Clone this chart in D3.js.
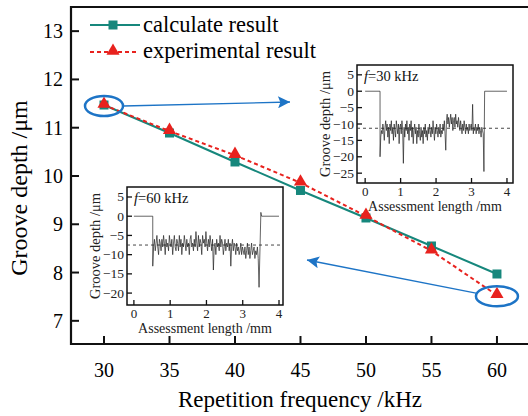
<!DOCTYPE html>
<html>
<head>
<meta charset="utf-8">
<script src="https://cdn.jsdelivr.net/npm/d3@7"></script>
<style>
  body { margin: 0; background: #fff; }
</style>
</head>
<body>
<div id="chart"></div>
<script>
// main chart data
var freq = [30, 35, 40, 45, 50, 55, 60];
var calcDepth = [11.47, 10.89, 10.29, 9.70, 9.13, 8.55, 7.97];
var expDepth = [11.47, 10.93, 10.43, 9.86, 9.17, 8.45, 7.53];
var xTicks = [30, 35, 40, 45, 50, 55, 60];
var yTicks = [7, 8, 9, 10, 11, 12, 13];

// inset profiles (groove samples, hand read)
var groove30 = [-20, -14, -12, -13, -10, -12, -15, -11, -9,
  -12, -10, -14, -11, -16, -10, -12, -9, -13, -11, -15, -10, -12, -14, -9, -11, -13, -10, -16, -11,
  -10, -13, -9, -12, -22, -11, -14, -10, -12, -9, -13, -11, -15, -10, -12, -9, -14, -11, -16, -12,
  -10, -13, -11, -16, -12, -14, -10, -13, -15, -11, -14, -12, -16, -11, -13, -10, -14, -12, -15, -11,
  -13, -10, -12, -14, -11, -13, -9, -12, -15, -11, -13, -10, -12, -14, -11, -13, -10, -14, -12, -13,
  -10, -12, -9, -13, -18, -9, -7, -10, -8, -11, -9, -7, -10, -8, -12, -9, -8, -11, -7, -10,
  -9, -11, -8, -10, -12, -9, -11, -13, -10, -12, -9, -11, -13, -10, -12, -11, -13, -10, -12, -11,
  -10, -12, -4, -13, -11, -12, -10, -13, -11, -12, -10, -13, -11, -12, -14, -11, -12, -13, -24.5];
var groove60 = [-13, -8, -6, -9, -7, -5, -8, -10, -6, -7,
  -9, -6, -8, -5, -7, -10, -6, -8, -7, -9, -5, -7, -8, -6, -10, -7, -5, -8, -9, -6,
  -7, -9, -5, -8, -6, -10, -7, -8, -5, -7, -9, -6, -8, -7, -10, -6, -5, -8, -7, -9,
  -6, -8, -4, -7, -9, -5, -8, -6, -7, -10, -5, -7, -6, -8, -4, -7, -9, -6, -8, -5,
  -7, -9, -6, -14, -8, -7, -10, -6, -8, -7, -9, -5, -8, -6, -7, -10, -8, -6, -9, -7,
  -8, -6, -9, -7, -13, -8, -6, -9, -7, -8, -10, -7, -9, -8, -10, -9, -7, -10, -8, -9,
  -10, -8, -11, -9, -7, -10, -8, -11, -9, -7, -10, -9, -8, -11, -9, -10, -8, -11, -18.5];
var insetXTicks = [0, 1, 2, 3, 4];
var inset30YTicks = [5, 0, -5, -10, -15, -20, -25];
var inset60YTicks = [5, 0, -5, -10, -15, -20];

var teal = "#16877c", red = "#e8221e", blue = "#1d74c6";

var svg = d3.select("#chart").append("svg")
    .attr("width", 528).attr("height", 416)
    .attr("font-family", "'Liberation Serif', 'Times New Roman', serif")
    .style("display", "block");

var x = d3.scaleLinear().domain([27.48, 62.37]).range([71, 528]);
var y = d3.scaleLinear().domain([6.52, 13.5]).range([344, 7]);

// frame
svg.append("path")
    .attr("d", "M528,7H71V344H528")
    .attr("fill", "none").attr("stroke", "#111").attr("stroke-width", 2.2);

// ticks
svg.selectAll(".xt").data(xTicks).enter().append("line")
    .attr("x1", d => x(d)).attr("x2", d => x(d))
    .attr("y1", 344).attr("y2", 336)
    .attr("stroke", "#111").attr("stroke-width", 2);
svg.selectAll(".xl").data(xTicks).enter().append("text")
    .attr("x", d => x(d)).attr("y", 377)
    .attr("text-anchor", "middle").attr("font-size", 20)
    .text(d => d);
svg.selectAll(".yt").data(yTicks).enter().append("line")
    .attr("x1", 71).attr("x2", 79)
    .attr("y1", d => y(d)).attr("y2", d => y(d))
    .attr("stroke", "#111").attr("stroke-width", 2);
svg.selectAll(".yl").data(yTicks).enter().append("text")
    .attr("x", 63).attr("y", d => y(d) + 7)
    .attr("text-anchor", "end").attr("font-size", 20)
    .text(d => d);

svg.append("text").attr("x", 300).attr("y", 407)
    .attr("text-anchor", "middle").attr("font-size", 23)
    .text("Repetition frequency /kHz");
svg.append("text")
    .attr("transform", "translate(27,188) rotate(-90)")
    .attr("text-anchor", "middle").attr("font-size", 24)
    .text("Groove depth /μm");

// series
var line = d3.line().x(d => x(d[0])).y(d => y(d[1]));
var calcPts = freq.map((f, i) => [f, calcDepth[i]]);
var expPts = freq.map((f, i) => [f, expDepth[i]]);

svg.append("path").attr("d", line(calcPts))
    .attr("fill", "none").attr("stroke", teal).attr("stroke-width", 2);
svg.selectAll(".sq").data(calcPts).enter().append("rect")
    .attr("x", d => x(d[0]) - 4.5).attr("y", d => y(d[1]) - 4.5)
    .attr("width", 9).attr("height", 9).attr("fill", teal);

svg.append("path").attr("d", line(expPts))
    .attr("fill", "none").attr("stroke", red).attr("stroke-width", 2)
    .attr("stroke-dasharray", "4,3");
var tri = d3.symbol().type(d3.symbolTriangle).size(75);
svg.selectAll(".tr").data(expPts).enter().append("path")
    .attr("d", tri)
    .attr("transform", d => "translate(" + x(d[0]) + "," + (y(d[1]) - 1) + ")")
    .attr("fill", red);

// legend
svg.append("line").attr("x1", 90).attr("x2", 140).attr("y1", 25).attr("y2", 25)
    .attr("stroke", teal).attr("stroke-width", 2);
svg.append("rect").attr("x", 108.5).attr("y", 20.5).attr("width", 9).attr("height", 9).attr("fill", teal);
svg.append("text").attr("x", 143).attr("y", 32).attr("font-size", 22.5).text("calculate result");
svg.append("line").attr("x1", 90).attr("x2", 136).attr("y1", 52).attr("y2", 52)
    .attr("stroke", red).attr("stroke-width", 2).attr("stroke-dasharray", "4,3");
svg.append("path").attr("d", tri).attr("transform", "translate(113,51)").attr("fill", red);
svg.append("text").attr("x", 143).attr("y", 58).attr("font-size", 22.5).text("experimental result");

// callouts
var defs = svg.append("defs");
defs.append("marker").attr("id", "ah")
    .attr("viewBox", "0 0 10 10").attr("refX", 10).attr("refY", 5)
    .attr("markerWidth", 28).attr("markerHeight", 12)
    .attr("markerUnits", "userSpaceOnUse").attr("orient", "auto")
    .append("path").attr("d", "M0,0L10,5L0,10L2,5Z").attr("fill", blue);

svg.append("ellipse").attr("cx", x(30)).attr("cy", y(11.47) + 1)
    .attr("rx", 19).attr("ry", 10)
    .attr("fill", "none").attr("stroke", blue).attr("stroke-width", 2.5);
svg.append("line").attr("x1", x(30) + 19).attr("y1", y(11.47) + 1)
    .attr("x2", 290).attr("y2", 102)
    .attr("stroke", blue).attr("stroke-width", 1.3).attr("marker-end", "url(#ah)");

svg.append("ellipse").attr("cx", x(60)).attr("cy", y(7.53) + 1)
    .attr("rx", 21).attr("ry", 10)
    .attr("fill", "none").attr("stroke", blue).attr("stroke-width", 2.5);
svg.append("line").attr("x1", x(60) - 21).attr("y1", y(7.53) - 2)
    .attr("x2", 307).attr("y2", 260)
    .attr("stroke", blue).attr("stroke-width", 1.3).attr("marker-end", "url(#ah)");

// insets
function inset(opt) {
  var g = svg.append("g");
  var ix = d3.scaleLinear().domain(opt.xd).range([opt.x0, opt.x1]);
  var iy = d3.scaleLinear().domain(opt.yd).range([opt.y1, opt.y0]);
  g.append("rect").attr("x", opt.x0).attr("y", opt.y0)
      .attr("width", opt.x1 - opt.x0).attr("height", opt.y1 - opt.y0)
      .attr("fill", "#fff").attr("stroke", "#111").attr("stroke-width", 1.5);
  g.selectAll(".ixt").data(insetXTicks).enter().append("line")
      .attr("x1", d => ix(d)).attr("x2", d => ix(d))
      .attr("y1", opt.y1).attr("y2", opt.y1 - 5)
      .attr("stroke", "#111").attr("stroke-width", 1.3);
  g.selectAll(".ixl").data(insetXTicks).enter().append("text")
      .attr("x", d => ix(d)).attr("y", opt.y1 + 13)
      .attr("text-anchor", "middle").attr("font-size", 13).attr("fill", "#222")
      .text(d => d);
  g.selectAll(".iyt").data(opt.yt).enter().append("line")
      .attr("x1", opt.x0).attr("x2", opt.x0 + 5)
      .attr("y1", d => iy(d)).attr("y2", d => iy(d))
      .attr("stroke", "#111").attr("stroke-width", 1.3);
  g.selectAll(".iyl").data(opt.yt).enter().append("text")
      .attr("x", opt.x0 - 3).attr("y", d => iy(d) + 4.5)
      .attr("text-anchor", "end").attr("font-size", 13.5).attr("fill", "#222")
      .text(d => d3.format("")(d));
  g.append("text").attr("x", (opt.x0 + opt.x1) / 2).attr("y", opt.y1 + 28)
      .attr("text-anchor", "middle").attr("font-size", 14).attr("fill", "#222")
      .text("Assessment length /mm");
  g.append("text")
      .attr("transform", "translate(" + (opt.x0 - 27) + "," + ((opt.y0 + opt.y1) / 2) + ") rotate(-90)")
      .attr("text-anchor", "middle").attr("font-size", 14.5).attr("fill", "#222")
      .text("Groove depth /μm");
  var ft = g.append("text").attr("x", opt.x0 + 7).attr("y", opt.y0 + 16)
      .attr("font-size", 14.5).attr("fill", "#111");
  ft.append("tspan").attr("font-style", "italic").text("f");
  ft.append("tspan").text("=" + opt.label);

  g.append("line").attr("x1", opt.x0).attr("x2", opt.x1)
      .attr("y1", iy(opt.mean)).attr("y2", iy(opt.mean))
      .attr("stroke", "#333").attr("stroke-width", 0.9).attr("stroke-dasharray", "3,3");

  var n = opt.groove.length;
  var pts = [[0, 0], [opt.gs, 0]];
  opt.groove.forEach((v, i) => pts.push([opt.gs + (opt.ge - opt.gs) * i / (n - 1), v]));
  opt.tail.forEach(p => pts.push(p));
  g.append("path")
      .attr("d", d3.line().x(d => ix(d[0])).y(d => iy(d[1]))(pts))
      .attr("fill", "none").attr("stroke", "#222").attr("stroke-width", 0.7);
}

inset({x0: 357, x1: 513, y0: 65, y1: 183, xd: [-0.23, 4.17], yd: [-28, 8],
  yt: inset30YTicks, label: "30 kHz", mean: -11.3, groove: groove30,
  gs: 0.42, ge: 3.35, tail: [[3.37, 0], [4, 0]]});
inset({x0: 127, x1: 283, y0: 187, y1: 305, xd: [-0.19, 4.11], yd: [-23.1, 7.6],
  yt: inset60YTicks, label: "60 kHz", mean: -7.5, groove: groove60,
  gs: 0.52, ge: 3.45, tail: [[3.5, 1], [3.52, 0], [4, 0]]});
</script>
</body>
</html>
